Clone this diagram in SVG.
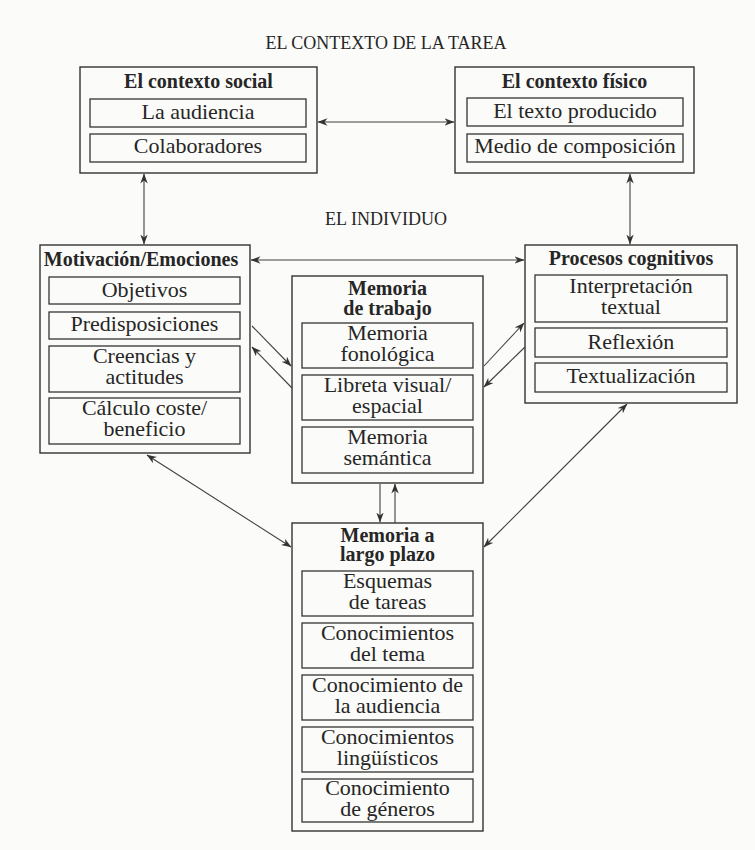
<svg xmlns="http://www.w3.org/2000/svg" width="755" height="850" viewBox="0 0 755 850">
  <defs>
    <style>
      .bg { fill: #fbfbf9; }
      .box { fill: none; stroke: #333; stroke-width: 1.4; }
      .sub { fill: none; stroke: #333; stroke-width: 1.3; }
      text { font-family: "Liberation Serif", "Times New Roman", serif; fill: #262626; text-anchor: middle; }
      .t { font-size: 22px; }
      .h { font-size: 20px; font-weight: bold; }
      .cap { font-size: 18px; }
      .link { fill: none; stroke: #404040; stroke-width: 1.1; marker-end: url(#head); }
      .both { marker-start: url(#head); }
    </style>
    <marker id="head" viewBox="0 0 10 8" refX="9.5" refY="4" markerWidth="10" markerHeight="8" orient="auto-start-reverse" markerUnits="userSpaceOnUse">
      <path d="M0,0.3 L10,4 L0,7.7 L3,4 Z" fill="#333"/>
    </marker>
  </defs>

  <rect class="bg" x="0" y="0" width="755" height="850"/>

  <!-- section labels -->
  <text class="cap" x="386" y="49">EL CONTEXTO DE LA TAREA</text>
  <text class="cap" x="386" y="225">EL INDIVIDUO</text>

  <!-- social context -->
  <g id="contexto-social">
    <rect class="box" x="80" y="67" width="237" height="106"/>
    <text class="h" x="198.5" y="88">El contexto social</text>
    <rect class="sub" x="90" y="99" width="216" height="28"/>
    <text class="t" x="198" y="119">La audiencia</text>
    <rect class="sub" x="90" y="134" width="216" height="28"/>
    <text class="t" x="198" y="153">Colaboradores</text>
  </g>

  <!-- physical context -->
  <g id="contexto-fisico">
    <rect class="box" x="455" y="67" width="239" height="106"/>
    <text class="h" x="574.5" y="88">El contexto físico</text>
    <rect class="sub" x="467" y="98" width="216" height="28"/>
    <text class="t" x="575" y="118">El texto producido</text>
    <rect class="sub" x="467" y="134" width="216" height="28"/>
    <text class="t" x="575" y="153">Medio de composición</text>
  </g>

  <!-- motivation / emotions -->
  <g id="motivacion">
    <rect class="box" x="40" y="245" width="210" height="208"/>
    <text class="h" x="141" y="266">Motivación/Emociones</text>
    <rect class="sub" x="49" y="277" width="191" height="27"/>
    <text class="t" x="144.5" y="297">Objetivos</text>
    <rect class="sub" x="49" y="312" width="191" height="27"/>
    <text class="t" x="144.5" y="331">Predisposiciones</text>
    <rect class="sub" x="49" y="346" width="191" height="46"/>
    <text class="t" x="144.5" y="363">Creencias y</text>
    <text class="t" x="144.5" y="384">actitudes</text>
    <rect class="sub" x="49" y="398" width="191" height="46"/>
    <text class="t" x="144.5" y="415">Cálculo coste/</text>
    <text class="t" x="144.5" y="436">beneficio</text>
  </g>

  <!-- working memory -->
  <g id="memoria-trabajo">
    <rect class="box" x="292" y="276" width="191" height="207"/>
    <text class="h" x="387.5" y="295">Memoria</text>
    <text class="h" x="387.5" y="315">de trabajo</text>
    <rect class="sub" x="302" y="323" width="171" height="45"/>
    <text class="t" x="387.5" y="340">Memoria</text>
    <text class="t" x="387.5" y="361">fonológica</text>
    <rect class="sub" x="302" y="375" width="171" height="45"/>
    <text class="t" x="387.5" y="392">Libreta visual/</text>
    <text class="t" x="387.5" y="413">espacial</text>
    <rect class="sub" x="302" y="427" width="171" height="46"/>
    <text class="t" x="387.5" y="444">Memoria</text>
    <text class="t" x="387.5" y="465">semántica</text>
  </g>

  <!-- cognitive processes -->
  <g id="procesos-cognitivos">
    <rect class="box" x="525" y="245" width="212" height="158"/>
    <text class="h" x="631" y="265">Procesos cognitivos</text>
    <rect class="sub" x="535" y="275" width="192" height="47"/>
    <text class="t" x="631" y="293">Interpretación</text>
    <text class="t" x="631" y="314">textual</text>
    <rect class="sub" x="535" y="328" width="192" height="29"/>
    <text class="t" x="631" y="349">Reflexión</text>
    <rect class="sub" x="535" y="363" width="192" height="29"/>
    <text class="t" x="631" y="383">Textualización</text>
  </g>

  <!-- long-term memory -->
  <g id="memoria-largo-plazo">
    <rect class="box" x="292" y="523" width="191" height="308"/>
    <text class="h" x="387.5" y="542">Memoria a</text>
    <text class="h" x="387.5" y="561">largo plazo</text>
    <rect class="sub" x="302" y="571" width="171" height="45"/>
    <text class="t" x="387.5" y="588">Esquemas</text>
    <text class="t" x="387.5" y="609">de tareas</text>
    <rect class="sub" x="302" y="623" width="171" height="45"/>
    <text class="t" x="387.5" y="640">Conocimientos</text>
    <text class="t" x="387.5" y="661">del tema</text>
    <rect class="sub" x="302" y="675" width="171" height="45"/>
    <text class="t" x="387.5" y="692">Conocimiento de</text>
    <text class="t" x="387.5" y="713">la audiencia</text>
    <rect class="sub" x="302" y="727" width="171" height="45"/>
    <text class="t" x="387.5" y="744">Conocimientos</text>
    <text class="t" x="387.5" y="765">lingüísticos</text>
    <rect class="sub" x="302" y="779" width="171" height="43"/>
    <text class="t" x="387.5" y="795">Conocimiento</text>
    <text class="t" x="387.5" y="816">de géneros</text>
  </g>

  <!-- connectors -->
  <g id="connectors">
    <line class="link both" x1="318" y1="122" x2="454" y2="122"/>
    <line class="link both" x1="144" y1="174" x2="144" y2="244"/>
    <line class="link both" x1="630" y1="174" x2="630" y2="244"/>
    <line class="link both" x1="251" y1="260" x2="524" y2="260"/>
    <line class="link" x1="252" y1="326" x2="291" y2="366"/>
    <line class="link" x1="292" y1="388" x2="252" y2="347"/>
    <line class="link" x1="484" y1="366" x2="524" y2="323"/>
    <line class="link" x1="525" y1="347" x2="484" y2="387"/>
    <line class="link" x1="380" y1="484" x2="380" y2="522"/>
    <line class="link" x1="395" y1="523" x2="395" y2="484"/>
    <line class="link both" x1="147" y1="455" x2="291" y2="547"/>
    <line class="link both" x1="627" y1="404" x2="484" y2="547"/>
  </g>
</svg>
